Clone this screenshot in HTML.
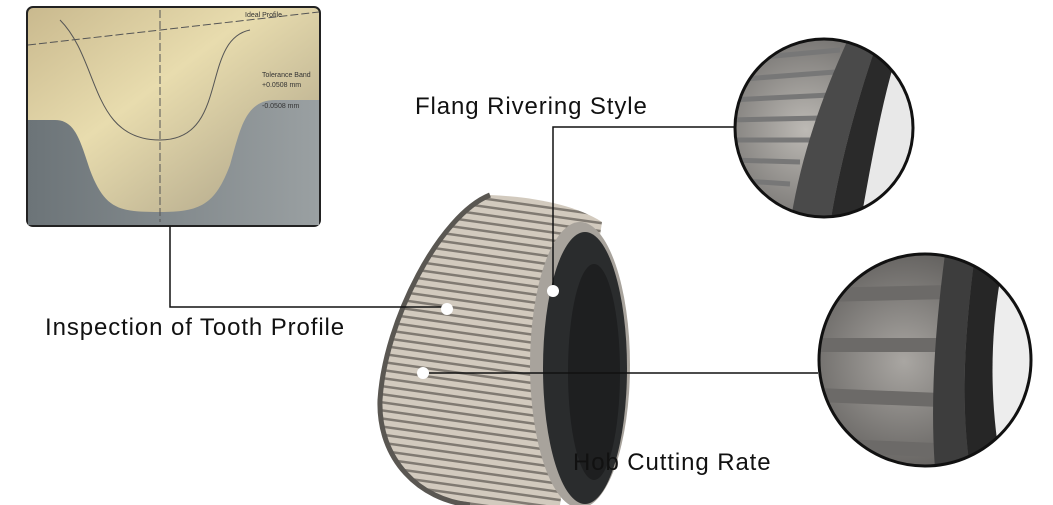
<!DOCTYPE html>
<html><head><style>
body{margin:0;background:#fff;width:1053px;height:505px;overflow:hidden;position:relative;font-family:"Liberation Sans",sans-serif}
.t{position:absolute;font-size:24px;color:#111;letter-spacing:0.9px;white-space:nowrap}
</style></head><body>
<svg width="1053" height="505" style="position:absolute;left:0;top:0">
<defs>
<linearGradient id="ph" x1="0" y1="0" x2="1" y2="1">
<stop offset="0" stop-color="#c9b98e"/><stop offset="0.4" stop-color="#e8dcae"/><stop offset="1" stop-color="#a49a82"/>
</linearGradient>
<linearGradient id="gr" x1="0" y1="0" x2="1" y2="0">
<stop offset="0" stop-color="#6c7478"/><stop offset="1" stop-color="#9aa0a2"/>
</linearGradient>
<pattern id="teeth" width="8" height="8" patternUnits="userSpaceOnUse" patternTransform="rotate(8)">
<rect width="8" height="8" fill="#d2cabe"/><rect y="0" width="8" height="2.5" fill="#807a72"/>
</pattern>
<radialGradient id="c1" cx="0.4" cy="0.5" r="0.6"><stop offset="0" stop-color="#bdbab5"/><stop offset="1" stop-color="#6a6866"/></radialGradient>
<radialGradient id="c2" cx="0.4" cy="0.5" r="0.6"><stop offset="0" stop-color="#a9a6a2"/><stop offset="1" stop-color="#5a5856"/></radialGradient>
<clipPath id="cp1"><circle cx="824" cy="128" r="89"/></clipPath>
<clipPath id="cp2"><circle cx="925" cy="360" r="106"/></clipPath>
</defs>
<rect x="27" y="7" width="293" height="219" rx="6" fill="url(#ph)" stroke="#222" stroke-width="2"/>
<path d="M28,120 L55,120 C75,120 80,140 90,170 C105,210 120,212 160,212 C200,212 215,205 230,165 C240,130 245,100 275,100 L319,100 L319,225 L28,225 Z" fill="url(#gr)"/>
<path d="M28,45 L319,12" stroke="#555" stroke-width="1" stroke-dasharray="8 3"/>
<path d="M160,10 L160,222" stroke="#555" stroke-width="1" stroke-dasharray="8 3"/>
<path d="M60,20 C100,60 90,140 160,140 C230,140 200,40 250,30" stroke="#555" fill="none"/>
<text x="245" y="17" font-size="7" fill="#333">Ideal Profile</text>
<text x="262" y="77" font-size="7" fill="#333">Tolerance Band</text>
<text x="262" y="87" font-size="7" fill="#333">+0.0508 mm</text>
<text x="262" y="108" font-size="7" fill="#333">-0.0508 mm</text>
<path d="M490,195 C535,197 575,205 602,222 L560,505 L470,505 C420,500 378,460 380,400 C385,320 440,215 490,195 Z" fill="url(#teeth)"/>
<path d="M490,195 C440,215 385,320 380,400 C378,460 420,500 470,505" stroke="#5a5752" stroke-width="5" fill="none"/>
<ellipse cx="580" cy="365" rx="50" ry="143" fill="#a8a39c"/>
<ellipse cx="585" cy="368" rx="42" ry="136" fill="#2a2c2d"/>
<ellipse cx="594" cy="372" rx="26" ry="108" fill="#1e1f20"/>
<polyline points="170,226 170,307 447,307" stroke="#111" stroke-width="1.5" fill="none"/>
<polyline points="553,291 553,127 737,127" stroke="#111" stroke-width="1.5" fill="none"/>
<line x1="424" y1="373" x2="818" y2="373" stroke="#111" stroke-width="1.5"/>
<circle cx="447" cy="309" r="6" fill="#fff"/>
<circle cx="553" cy="291" r="6" fill="#fff"/>
<circle cx="423" cy="373" r="6" fill="#fff"/>
<g clip-path="url(#cp1)">
<rect x="730" y="35" width="190" height="190" fill="url(#c1)"/>
<g stroke="#777" stroke-width="5"><line x1="730" y1="60" x2="840" y2="50"/><line x1="730" y1="80" x2="835" y2="72"/><line x1="730" y1="100" x2="830" y2="95"/><line x1="730" y1="120" x2="822" y2="118"/><line x1="730" y1="140" x2="812" y2="140"/><line x1="730" y1="160" x2="800" y2="162"/><line x1="730" y1="180" x2="790" y2="184"/></g>
<path d="M850,35 C820,100 800,160 790,225 L830,225 C840,160 860,90 880,35 Z" fill="#4a4a4a"/>
<path d="M880,35 C860,90 840,160 830,225 L920,225 L920,35 Z" fill="#2a2a2a"/>
<path d="M895,60 C880,110 870,170 860,225 L920,225 L920,40 Z" fill="#e8e8e8"/>
</g>
<circle cx="824" cy="128" r="89" fill="none" stroke="#111" stroke-width="3"/>
<g clip-path="url(#cp2)">
<rect x="818" y="254" width="215" height="215" fill="url(#c2)"/>
<g stroke="#6c6a68" stroke-width="14"><line x1="818" y1="295" x2="950" y2="292"/><line x1="818" y1="345" x2="945" y2="345"/><line x1="818" y1="395" x2="940" y2="400"/><line x1="818" y1="445" x2="935" y2="450"/></g>
<path d="M945,254 C935,330 930,400 935,469 L970,469 C960,400 965,330 975,254 Z" fill="#3d3d3d"/>
<path d="M975,254 C965,330 960,400 970,469 L1033,469 L1033,254 Z" fill="#262626"/>
<path d="M1000,280 C990,340 990,400 1000,460 L1033,460 L1033,280 Z" fill="#ededed"/>
</g>
<circle cx="925" cy="360" r="106" fill="none" stroke="#111" stroke-width="3"/>
</svg>
<div class="t" style="left:415px;top:93px">Flang Rivering Style</div>
<div class="t" style="left:45px;top:314px">Inspection of Tooth Profile</div>
<div class="t" style="left:573px;top:449px">Hob Cutting Rate</div>
</body></html>
